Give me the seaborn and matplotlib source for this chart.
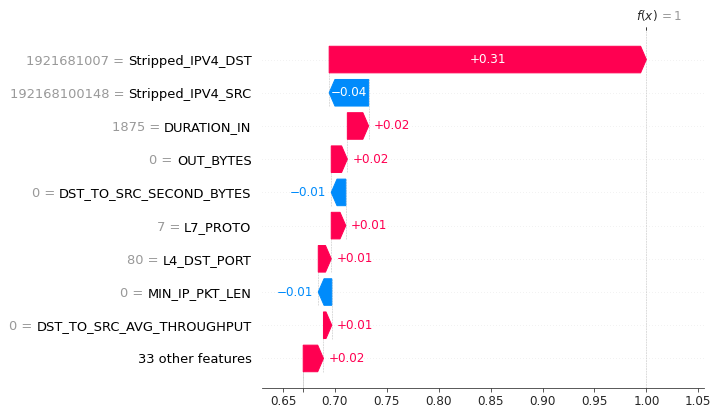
import numpy as np
import matplotlib
matplotlib.use("Agg")
import matplotlib.pyplot as plt
import matplotlib.transforms as mtrans
import seaborn as sns

# SHAP waterfall data (top row first)
features = ["Stripped_IPV4_DST", "Stripped_IPV4_SRC", "DURATION_IN", "OUT_BYTES",
            "DST_TO_SRC_SECOND_BYTES", "L7_PROTO", "L4_DST_PORT", "MIN_IP_PKT_LEN",
            "DST_TO_SRC_AVG_THROUGHPUT", "33 other features"]
feature_values = ["1921681007", "192168100148", "1875", "0", "0", "7", "80", "0", "0", ""]
shap_values = [0.3055, -0.038, 0.0205, 0.0155, -0.014, 0.014, 0.0125, -0.013, 0.008, 0.0195]
base_value = 0.6695
x_ticks = [0.65, 0.70, 0.75, 0.80, 0.85, 0.90, 0.95, 1.00, 1.05]

red = "#ff0051"
blue = "#008bfb"


def fmt(v, f):
    s = (f % v).replace("-", "\u2212")
    if "." in s and f == "%0.03f":
        s = s.rstrip("0").rstrip(".")
    return s


sns.set_style("white")
plt.rcParams["font.family"] = ["DejaVu Sans"]

fig = plt.figure(figsize=(712 / 72, 412 / 72), dpi=72)
ax = fig.add_axes([262 / 712, 1 - 388 / 412, (704 - 262) / 712, (388 - 30) / 412])

n = len(features)
rows = np.arange(n)[::-1]
fx = base_value + sum(shap_values)

# start point of every bar, walking down from f(x)
starts = []
loc = fx
for v in shap_values:
    loc -= v
    starts.append(loc)

xmin, xmax = 0.6298, 1.0555
ax.set_xlim(xmin, xmax)
ax.set_ylim(-0.89, 9.89)

bar_width = 0.8
ax_w_in = ax.get_window_extent().transformed(fig.dpi_scale_trans.inverted()).width
bbox_to_xscale = (xmax - xmin) / ax_w_in
hl = 0.08 * bbox_to_xscale

# row guides and connector lines
for r in rows:
    ax.axhline(r, color="#cccccc", lw=0.5, dashes=(1, 5), zorder=-1)
for i in range(n):
    ax.plot([starts[i], starts[i]], [rows[i] - 1 - 0.4, rows[i] + 0.4],
            color="#bbbbbb", linestyle="--", linewidth=0.5, zorder=-1)
ax.axvline(base_value, 0, 1 / n, color="#bbbbbb", linestyle="--", linewidth=0.5, zorder=-1)
ax.axvline(fx, 0, 1, color="#bbbbbb", linestyle="--", linewidth=0.5, zorder=-1)

renderer = fig.canvas.get_renderer()
for i in range(n):
    v = shap_values[i]
    dist = abs(v)
    sign = 1 if v >= 0 else -1
    col = red if v >= 0 else blue
    arr = ax.arrow(starts[i], rows[i], sign * max(dist - hl, 1e-6), 0,
                   head_length=min(dist, hl), color=col, width=bar_width,
                   head_width=bar_width)
    label = fmt(v, "%+0.02f")
    txt = ax.text(starts[i] + 0.5 * v, rows[i], label, ha="center", va="center",
                  color="white", fontsize=12)
    if txt.get_window_extent(renderer=renderer).width > arr.get_window_extent(renderer=renderer).width:
        txt.remove()
        ax.text(starts[i] + v + sign * (5 / 72) * bbox_to_xscale, rows[i], label,
                ha="left" if v >= 0 else "right", va="center", color=col, fontsize=12)

# feature names as y tick labels, gray "value = " prefix just left of each name
ax.set_yticks(rows)
ax.set_yticklabels(features, fontsize=13, color="black")
ax.tick_params(axis="y", left=False, pad=7)
fig.canvas.draw()
for lab, val, r in zip(ax.yaxis.get_majorticklabels(), feature_values, rows):
    if val:
        ax.annotate(val + " = ", xy=(0, r), xycoords=(lab, ax.get_yaxis_transform()),
                    ha="right", va="center_baseline", fontsize=13, color="#999999",
                    annotation_clip=False)

ax.set_xticks(x_ticks)
ax.set_xticklabels([f"{t:.2f}" for t in x_ticks], fontsize=12)
ax.set_xticks([base_value], minor=True)
ax.tick_params(axis="x", which="both", bottom=True, length=3.5, width=0.8, color="#333333")
sns.despine(ax=ax, left=True)
ax.spines["bottom"].set_color("#333333")

# f(x) marker on top
ax3 = ax.twiny()
ax3.set_xlim(xmin, xmax)
ax3.set_xticks([fx, fx + 1e-8])
ax3.set_xticklabels(["$f(x)$", "$ = " + fmt(fx, "%0.03f") + "$"], fontsize=12, ha="left")
ax3.tick_params(axis="x", top=True, length=3.5, width=0.8, color="#333333")
tl = ax3.xaxis.get_majorticklabels()
tl[0].set_transform(tl[0].get_transform() + mtrans.ScaledTranslation(-10 / 72., 0, fig.dpi_scale_trans))
tl[1].set_transform(tl[1].get_transform() + mtrans.ScaledTranslation(13 / 72., 0, fig.dpi_scale_trans))
tl[1].set_color("#999999")
for s in ["right", "top", "left", "bottom"]:
    ax3.spines[s].set_visible(False)

fig.savefig("out.png", dpi=72)
